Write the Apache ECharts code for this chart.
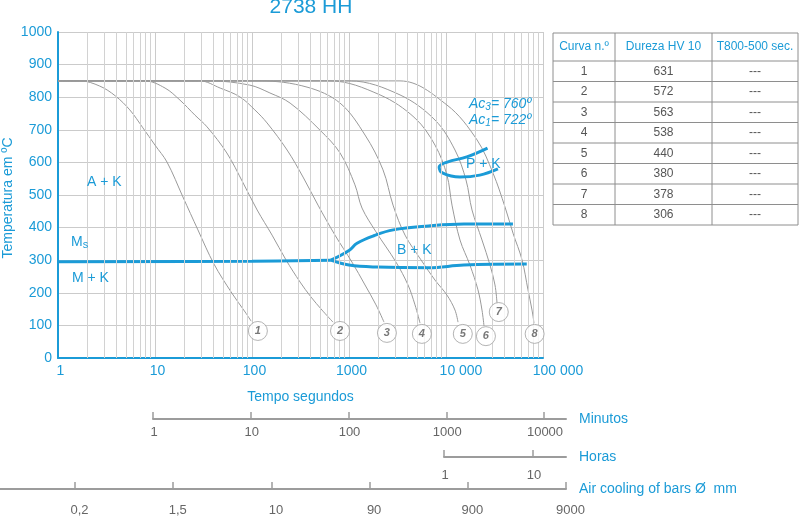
<!DOCTYPE html>
<html lang="pt">
<head>
  <meta charset="utf-8">
</head>
<body style="margin: 0; background: #fff">
<div id="container" style="width: 799px; height: 519px"></div>

<script type="text/javascript" src="https://cdn.jsdelivr.net/npm/echarts@6/dist/echarts.min.js"></script>

<script type="text/javascript">
  var BLUE = '#1b9bd7';
  var GRAY = '#9a9a9a';
  var FONT = '"Liberation Sans", Arial, sans-serif';

  // main time axis (seconds, log)
  var timeTicks = [1, 10, 100, 1000, 10000, 100000];
  var timeLabels = ['1', '10', '100', '1000', '10 000', '100 000'];
  var minorSteps = [2, 3, 4, 5, 6, 7, 8, 9];

  // cooling curves [t (s), T (ºC)]
  var curve1 = [[1, 850], [1.7, 850], [2.7, 834], [3.9, 804], [5.5, 761], [7.5, 706], [10, 653], [13.3, 601],
    [19.4, 494], [27.7, 393], [40.6, 288], [62, 199], [85, 141], [98, 113]];
  var curve2 = [[1, 850], [7.9, 850], [12.7, 828], [18.1, 791], [25.8, 745], [34.4, 709], [55, 629], [81, 537],
    [113, 454], [161, 377], [224, 301], [313, 233], [406, 187], [527, 147], [684, 110]];
  var curve3 = [[1, 850], [29, 850], [47, 828], [75, 801], [107, 761], [143, 721], [230, 638], [336, 555],
    [479, 469], [717, 377], [1074, 294], [1463, 224], [1898, 163], [2296, 110]];
  var curve4 = [[1, 850], [37, 850], [95, 837], [153, 813], [247, 782], [502, 699], [808, 629], [1152, 531],
    [1362, 460], [1898, 387], [3053, 294], [4058, 224], [4791, 163], [5398, 107]];
  var curve5 = [[1, 850], [121, 850], [369, 831], [808, 782], [1463, 684], [2243, 577], [2843, 469],
    [3780, 377], [5523, 301], [7703, 239], [10230, 193], [12380, 147], [13300, 110]];
  var curve6 = [[1, 850], [637, 850], [2089, 807], [4786, 736], [7703, 653], [10230, 561], [11530, 469],
    [13940, 362], [17660, 285], [21360, 209], [23500, 147], [24650, 98]];
  var curve7 = [[1, 850], [1024, 850], [3356, 807], [7703, 730], [12380, 638], [16080, 546], [18540, 454],
    [23500, 362], [28420, 285], [32000, 224], [33570, 169]];
  var curve8 = [[1, 850], [3356, 850], [10230, 776], [20890, 669], [30530, 567], [40600, 463], [49070, 383],
    [60790, 301], [70030, 209], [77050, 147], [80760, 107]];
  var coolingCurves = [curve1, curve2, curve3, curve4, curve5, curve6, curve7, curve8];

  // curve number markers
  var curveNumbers = ['1', '2', '3', '4', '5', '6', '7', '8'];
  var markerPoints = [[115, 83], [808, 83], [2460, 77], [5640, 74], [14900, 74], [25800, 67], [35000, 141], [82000, 74]];

  // transformation lines
  var msLine = [[1, 295], [100, 297], [650, 300]];
  var bainiteStart = [[650, 300], [1000, 330], [1210, 352], [1800, 375], [2860, 393], [6600, 405], [15300, 411], [49000, 411]];
  var bainiteEnd = [[650, 300], [1000, 285], [2000, 279], [6600, 277], [15300, 285], [68000, 288]];
  var pearliteNose = [[26800, 644], [16400, 617], [10300, 601], [8500, 586], [9300, 567], [13900, 555], [22300, 561], [34300, 580]];

  // table
  var tableHeader = ['Curva n.º', 'Dureza HV 10', 'T800-500 sec.'];
  var hardness = ['631', '572', '563', '538', '440', '380', '378', '306'];
  var t800500 = ['---', '---', '---', '---', '---', '---', '---', '---'];

  // secondary scales
  var minuteTicks = [1, 10, 100, 1000, 10000];
  var minuteLabels = ['1', '10', '100', '1000', '10000'];
  var hourTicks = [1, 10];
  var hourLabels = ['1', '10'];
  var airLabels = ['0,2', '1,5', '10', '90', '900', '9000'];

  var minorGrid = [];
  for (var d = 1; d < 100000; d *= 10) {
    minorSteps.forEach(function (m) { minorGrid.push(m * d); });
  }

  var dom = document.getElementById('container');
  var myChart = echarts.init(dom, null, { renderer: 'canvas' });

  function scaleAxis(grid, min, max, ticks, labels, name, labelMargin, labelPad) {
    return {
      gridIndex: grid, type: 'value', min: min, max: max,
      axisLine: { lineStyle: { color: '#9c9c9c', width: 2 } },
      axisTick: { inside: true, length: 7, customValues: ticks, lineStyle: { color: '#9c9c9c', width: 1.5 } },
      splitLine: { show: false },
      axisLabel: {
        customValues: ticks, margin: labelMargin, color: '#666', fontSize: 13, fontFamily: FONT,
        padding: [0, 0, 0, labelPad],
        formatter: function (v) { return labels[ticks.indexOf(v)]; }
      },
      name: name, nameLocation: 'end', nameGap: 13,
      nameTextStyle: { color: BLUE, fontSize: 14, fontFamily: FONT, padding: [0, 0, 10, 0] }
    };
  }

  var series = [{
    type: 'line', data: [], silent: true, z: 1,
    markLine: {
      silent: true, symbol: 'none', animation: false,
      label: { show: false },
      lineStyle: { color: '#d2d2d2', width: 1, type: 'solid' },
      data: minorGrid.map(function (v) { return { xAxis: v }; })
    }
  }];
  coolingCurves.forEach(function (c, i) {
    series.push({
      name: 'Curva ' + curveNumbers[i], type: 'line', data: c, showSymbol: false, smooth: 0.35, z: 3,
      lineStyle: { color: GRAY, width: 1 }
    });
  });
  [msLine, bainiteStart, bainiteEnd, pearliteNose].forEach(function (c) {
    series.push({
      type: 'line', data: c, showSymbol: false, smooth: 0.4, z: 4,
      lineStyle: { color: BLUE, width: 3 }
    });
  });
  series.push({
    type: 'scatter', data: markerPoints, symbolSize: 19, z: 5,
    itemStyle: { color: '#fff', borderColor: '#a0a0a0', borderWidth: 1 },
    label: {
      show: true, position: 'inside', color: '#555', fontSize: 11, fontStyle: 'italic', fontWeight: 'bold',
      fontFamily: FONT,
      formatter: function (p) { return curveNumbers[p.dataIndex]; }
    }
  });

  // table built from the arrays
  var cols = [553, 615, 712, 798];
  var headTop = 33, headBottom = 61, rowH = 20.5;
  var tableEls = [];
  var tableBottom = headBottom + rowH * hardness.length;
  for (var r = 0; r <= hardness.length + 1; r++) {
    var yy = r === 0 ? headTop : headBottom + rowH * (r - 1);
    tableEls.push({ type: 'line', shape: { x1: cols[0], y1: yy, x2: cols[3], y2: yy }, style: { stroke: '#8e8e8e', lineWidth: 1 } });
  }
  cols.forEach(function (cx) {
    tableEls.push({ type: 'line', shape: { x1: cx, y1: headTop, x2: cx, y2: tableBottom }, style: { stroke: '#8e8e8e', lineWidth: 1 } });
  });
  tableHeader.forEach(function (h, c) {
    tableEls.push({ type: 'text', x: (cols[c] + cols[c + 1]) / 2, y: (headTop + headBottom) / 2,
      style: { text: h, fill: BLUE, fontSize: 12, fontFamily: FONT, align: 'center', verticalAlign: 'middle' } });
  });
  hardness.forEach(function (hv, r) {
    var cy = headBottom + rowH * r + rowH / 2;
    [curveNumbers[r], hv, t800500[r]].forEach(function (txt, c) {
      tableEls.push({ type: 'text', x: (cols[c] + cols[c + 1]) / 2, y: cy,
        style: { text: txt, fill: '#555', fontSize: 12, fontFamily: FONT, align: 'center', verticalAlign: 'middle' } });
    });
  });

  function label(txt, x, y, extra) {
    var st = { text: txt, fill: BLUE, fontSize: 14, fontFamily: FONT, verticalAlign: 'middle' };
    for (var k in extra) st[k] = extra[k];
    return { type: 'text', x: x, y: y, z: 10, style: st };
  }
  var subRich = {
    a: { fontSize: 14, fontStyle: 'italic', fill: BLUE, fontFamily: FONT, lineHeight: 16 },
    s: { fontSize: 10, fontStyle: 'italic', fill: BLUE, fontFamily: FONT, lineHeight: 16, verticalAlign: 'bottom', padding: [5, 0, 0, 0] },
    m: { fontSize: 14, fill: BLUE, fontFamily: FONT, lineHeight: 16 },
    n: { fontSize: 11, fill: BLUE, fontFamily: FONT, lineHeight: 16, verticalAlign: 'bottom', padding: [5, 0, 0, 0] }
  };

  var option = {
    animation: false,
    textStyle: { fontFamily: FONT },
    grid: [
      { left: 58, top: 32, width: 485, height: 326, outerBoundsMode: 'none' },
      { left: 153, top: 418, width: 413, height: 1, outerBoundsMode: 'none' },
      { left: 444, top: 456, width: 122, height: 1, outerBoundsMode: 'none' },
      { left: 0, top: 488, width: 566, height: 1, outerBoundsMode: 'none' }
    ],
    xAxis: [
      {
        type: 'log', logBase: 10, min: 1, max: 100000,
        axisLine: { lineStyle: { color: BLUE, width: 2 } },
        axisTick: { show: false },
        splitLine: { show: true, lineStyle: { color: '#cbcbcb', width: 1 } },
        axisLabel: {
          color: BLUE, fontSize: 14, margin: 6, fontFamily: FONT,
          formatter: function (v) {
            var i = timeTicks.indexOf(v);
            return i >= 4 ? '{w|' + timeLabels[i] + '}' : '{n|' + timeLabels[i] + '}';
          },
          rich: {
            n: { color: BLUE, fontSize: 14, fontFamily: FONT, padding: [0, 0, 0, 5] },
            w: { color: BLUE, fontSize: 14, fontFamily: FONT, padding: [0, 0, 0, 30] }
          }
        },
        name: 'Tempo segundos', nameLocation: 'middle', nameGap: 32, nameMoveOverlap: false,
        nameTextStyle: { color: BLUE, fontSize: 14, fontFamily: FONT }
      },
      scaleAxis(1, 0, 4.225, minuteTicks.map(Math.log10), minuteLabels, 'Minutos', 7, 2),
      scaleAxis(2, 0, 1.371, hourTicks.map(Math.log10), hourLabels, 'Horas', 12, 2),
      scaleAxis(3, -0.764, 5, [0, 1, 2, 3, 4, 5], airLabels, 'Air cooling of bars Ø  mm', 15, 9)
    ],
    yAxis: [
      {
        type: 'value', min: 0, max: 1000, interval: 100,
        axisLine: { show: true, lineStyle: { color: BLUE, width: 2 } },
        axisTick: { show: false },
        splitLine: { lineStyle: { color: '#cbcbcb', width: 1 } },
        axisLabel: { color: BLUE, fontSize: 14, margin: 6, fontFamily: FONT, formatter: function (v) { return String(v); } },
        name: 'Temperatura em ºC', nameLocation: 'middle', nameGap: 43, nameMoveOverlap: false,
        nameTextStyle: { color: BLUE, fontSize: 14, fontFamily: FONT, padding: [0, 6, 0, 0] }
      },
      { gridIndex: 1, show: false },
      { gridIndex: 2, show: false },
      { gridIndex: 3, show: false }
    ],
    series: series,
    graphic: [
      { type: 'text', x: 311, y: 7, style: { text: '2738 HH', fill: BLUE, fontSize: 21, fontFamily: FONT, align: 'center', verticalAlign: 'middle' } },
      label('A + K', 87, 182),
      label('M + K', 72, 278),
      label('B + K', 397, 250),
      label('P + K', 466, 164),
      { type: 'text', x: 71, y: 242, z: 10, style: { text: '{m|M}{n|s}', rich: subRich, verticalAlign: 'middle' } },
      { type: 'text', x: 469, y: 104, z: 10, style: { text: '{a|Ac}{s|3}{a|= 760º}', rich: subRich, verticalAlign: 'middle' } },
      { type: 'text', x: 469, y: 120, z: 10, style: { text: '{a|Ac}{s|1}{a|= 722º}', rich: subRich, verticalAlign: 'middle' } },
      { type: 'group', children: tableEls }
    ]
  };

  myChart.setOption(option);
  window.addEventListener('resize', myChart.resize);
</script>
</body>
</html>
